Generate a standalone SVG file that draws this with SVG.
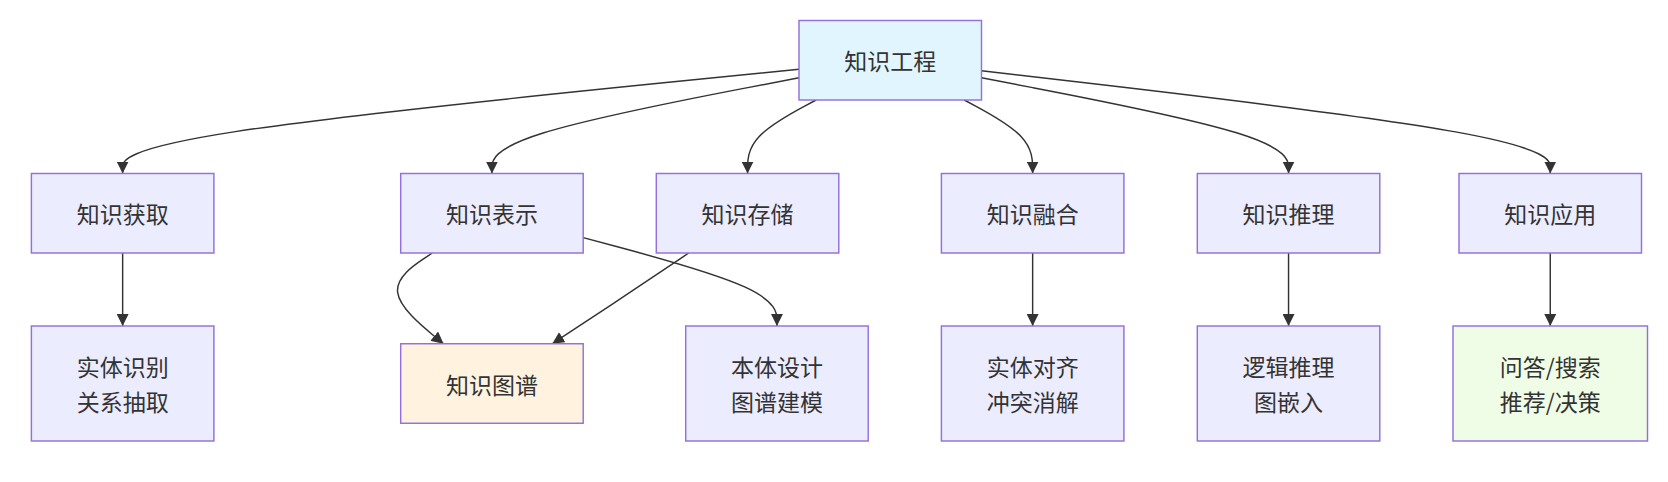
<svg xmlns="http://www.w3.org/2000/svg" width="1668" height="482" viewBox="0 0 1668 482">
<style>
.node rect{fill:#ECECFF;stroke:#9370DB;stroke-width:1.45}
.node text{font-family:"Noto Sans CJK SC","Noto Sans",sans-serif;font-size:23px;fill:#333333;text-anchor:middle;dominant-baseline:central}
.edge{fill:none;stroke:#333333;stroke-width:1.45;marker-end:url(#arrow)}
</style>
<defs>
<marker id="arrow" viewBox="0 0 10 10" refX="10" refY="5" markerWidth="12" markerHeight="12" markerUnits="userSpaceOnUse" orient="auto">
<path d="M0,0 L10,5 L0,10 z" fill="#333333"/>
</marker>
</defs>
<rect width="1668" height="482" fill="#ffffff"/>
<g id="connectors">
<path class="edge" d="M799,69.34 L686.28,80.58 C573.55,91.81 348.1,114.28 235.38,131.64 C122.65,149 122.65,161.25 122.65,167.38 L122.65,173.5"/>
<path class="edge" d="M799,77.78 L747.83,87.61 C696.65,97.44 594.3,117.09 543.13,133.05 C491.95,149 491.95,161.25 491.95,167.38 L491.95,173.5"/>
<path class="edge" d="M816.1,100 L804.68,106.13 C793.25,112.25 770.4,124.5 758.98,136.75 C747.55,149 747.55,161.25 747.55,167.38 L747.55,173.5"/>
<path class="edge" d="M964.24,100 L975.64,106.13 C987.04,112.25 1009.85,124.5 1021.25,136.75 C1032.65,149 1032.65,161.25 1032.65,167.38 L1032.65,173.5"/>
<path class="edge" d="M981.5,77.78 L1032.68,87.61 C1083.85,97.44 1186.2,117.09 1237.38,133.05 C1288.55,149 1288.55,161.25 1288.55,167.38 L1288.55,173.5"/>
<path class="edge" d="M981.5,70.83 L1076.29,81.82 C1171.08,92.8 1360.67,114.78 1455.46,131.89 C1550.25,149 1550.25,161.25 1550.25,167.38 L1550.25,173.5"/>
<path class="edge" d="M122.65,253 L122.65,326"/>
<path class="edge" d="M432.29,253 L423.16,259.08 C414.03,265.17 395.76,277.33 397.64,292.46 C399.52,307.58 421.53,325.67 432.54,334.71 L443.55,343.75"/>
<path class="edge" d="M688.67,253 L679.66,259.08 C670.65,265.17 652.62,277.33 629.89,292.46 C607.16,307.58 579.71,325.67 565.99,334.71 L552.27,343.75"/>
<path class="edge" d="M583.2,237.66 L615.49,246.3 C647.78,254.94 712.37,272.22 744.66,286.94 C776.95,301.67 776.95,313.83 776.95,319.92 L776.95,326"/>
<path class="edge" d="M1032.65,253 L1032.65,326"/>
<path class="edge" d="M1288.55,253 L1288.55,326"/>
<path class="edge" d="M1550.25,253 L1550.25,326"/>
</g>
<g id="n-root" class="node"><rect x="799" y="20.5" width="182.5" height="79.5" style="fill:#E1F5FE"/><text x="890.25" y="60.25">知识工程</text></g>
<g id="n-acquire" class="node"><rect x="31.4" y="173.5" width="182.5" height="79.5"/><text x="122.65" y="213.25">知识获取</text></g>
<g id="n-represent" class="node"><rect x="400.7" y="173.5" width="182.5" height="79.5"/><text x="491.95" y="213.25">知识表示</text></g>
<g id="n-store" class="node"><rect x="656.3" y="173.5" width="182.5" height="79.5"/><text x="747.55" y="213.25">知识存储</text></g>
<g id="n-fuse" class="node"><rect x="941.4" y="173.5" width="182.5" height="79.5"/><text x="1032.65" y="213.25">知识融合</text></g>
<g id="n-reason" class="node"><rect x="1197.3" y="173.5" width="182.5" height="79.5"/><text x="1288.55" y="213.25">知识推理</text></g>
<g id="n-apply" class="node"><rect x="1459" y="173.5" width="182.5" height="79.5"/><text x="1550.25" y="213.25">知识应用</text></g>
<g id="n-extract" class="node"><rect x="31.4" y="326" width="182.5" height="115"/><text x="122.65" y="366">实体识别</text><text x="122.65" y="401">关系抽取</text></g>
<g id="n-kg" class="node"><rect x="400.7" y="343.75" width="182.5" height="79.5" style="fill:#FFF3E0"/><text x="491.95" y="383.5">知识图谱</text></g>
<g id="n-ontology" class="node"><rect x="685.7" y="326" width="182.5" height="115"/><text x="776.95" y="366">本体设计</text><text x="776.95" y="401">图谱建模</text></g>
<g id="n-align" class="node"><rect x="941.4" y="326" width="182.5" height="115"/><text x="1032.65" y="366">实体对齐</text><text x="1032.65" y="401">冲突消解</text></g>
<g id="n-logic" class="node"><rect x="1197.3" y="326" width="182.5" height="115"/><text x="1288.55" y="366">逻辑推理</text><text x="1288.55" y="401">图嵌入</text></g>
<g id="n-qa" class="node"><rect x="1453" y="326" width="194.5" height="115" style="fill:#F0FDE6"/><text x="1550.25" y="366">问答/搜索</text><text x="1550.25" y="401">推荐/决策</text></g>
</svg>
